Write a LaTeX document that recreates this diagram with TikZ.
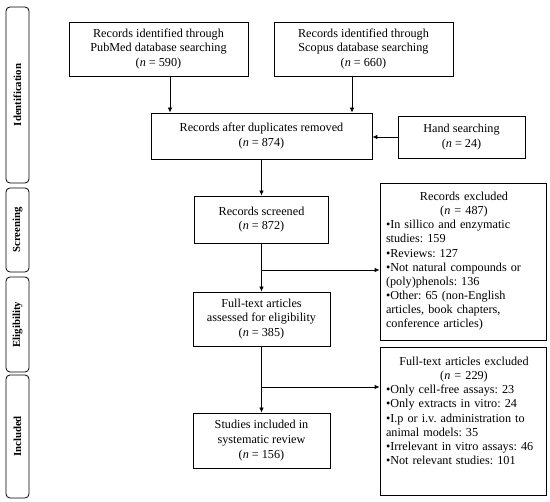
\documentclass[tikz,border=0pt]{standalone}
\usepackage{fontspec}
\setmainfont{Liberation Serif}
\usetikzlibrary{arrows.meta}
\newcommand{\ctrline}[1]{\hspace*{\fill}#1\hspace*{\fill}\mbox{}}
\begin{document}
\frenchspacing
\begin{tikzpicture}[x=1pt,y=-1pt,
  every node/.style={font=\fontsize{12.2}{14.8}\selectfont},
  box/.style={draw,line width=0.8pt,rectangle,inner sep=0pt,align=center},
  sidebox/.style={draw,line width=0.8pt,rectangle,rounded corners=4pt,inner sep=0pt,minimum width=23pt},
  sidetext/.style={rotate=90,font=\fontsize{10.8}{12}\selectfont\bfseries},
  exctext/.style={inner sep=0pt,text width=156pt,align=left,anchor=north,font=\fontsize{12.2}{14.1}\selectfont},
  arr/.style={line width=0.8pt,-{Latex[length=5pt,width=4.5pt]}},
  ln/.style={line width=0.8pt}]
\useasboundingbox (0,0) rectangle (550,502);
% side labels
\node[sidebox,minimum height=176pt] (sident) at (17.5,95) {};
\node[sidetext] (tident) at (sident.center) {Identification};
\node[sidebox,minimum height=84pt] (sscreen) at (17.5,230) {};
\node[sidetext] (tscreen) at (sscreen.center) {Screening};
\node[sidebox,minimum height=95pt] (selig) at (17.5,324.5) {};
\node[sidetext] (telig) at (selig.center) {Eligibility};
\node[sidebox,minimum height=123pt] (sincl) at (17.5,436.5) {};
\node[sidetext] (tincl) at (sincl.center) {Included};
% main boxes
\node[box,minimum width=179pt,minimum height=54pt] (pubmed) at (158.5,49)
  {Records identified through\\PubMed database searching\\(\textit{n} = 590)};
\node[box,minimum width=179pt,minimum height=54pt] (scopus) at (363.5,49)
  {Records identified through\\Scopus database searching\\(\textit{n} = 660)};
\node[box,minimum width=221pt,minimum height=46pt] (dupes) at (261.5,136)
  {Records after duplicates removed\\(\textit{n} = 874)};
\node[box,minimum width=127pt,minimum height=42pt] (hand) at (461.5,137)
  {Hand searching\\(\textit{n} = 24)};
\node[box,minimum width=134pt,minimum height=47pt] (screened) at (261.5,219.5)
  {Records screened\\(\textit{n} = 872)};
\node[box,minimum width=137pt,minimum height=54pt] (fulltext) at (261.5,319)
  {Full-text articles\\assessed for eligibility\\(\textit{n} = 385)};
\node[box,minimum width=137pt,minimum height=55pt] (included) at (261.5,440.5)
  {Studies included in\\systematic review\\(\textit{n} = 156)};
% exclusion boxes
\node[box,minimum width=166pt,minimum height=157pt] (excl1) at (463,261.5) {};
\node[exctext] (excl1t) at (464,192)
  {\ctrline{Records excluded}\\
   \ctrline{(\textit{n} = 487)}\\
   •In sillico and enzymatic\\
   studies: 159\\
   •Reviews: 127\\
   •Not natural compounds or\\
   (poly)phenols: 136\\
   •Other: 65 (non-English\\
   articles, book chapters,\\
   conference articles)};
\node[box,minimum width=166pt,minimum height=148pt] (excl2) at (463,421) {};
\node[exctext] (excl2t) at (464,357)
  {\ctrline{Full-text articles excluded}\\
   \ctrline{(\textit{n} = 229)}\\
   •Only cell-free assays: 23\\
   •Only extracts in vitro: 24\\
   •I.p or i.v. administration to\\
   animal models: 35\\
   •Irrelevant in vitro assays: 46\\
   •Not relevant studies: 101};
% connectors
\draw[arr] ([xshift=11.5pt]pubmed.south) -- ([xshift=11.5pt]pubmed.south |- dupes.north);
\draw[arr] ([xshift=-11.5pt]scopus.south) -- ([xshift=-11.5pt]scopus.south |- dupes.north);
\draw[arr] (hand.west) -- (hand.west -| dupes.east);
\draw[arr] (dupes.south) -- (screened.north);
\draw[arr] (screened.south) -- (fulltext.north);
\draw[arr] (fulltext.south) -- (included.north);
\coordinate (b1) at (261.5,270);
\coordinate (b2) at (261.5,387);
\draw[arr] (b1) -- (b1 -| excl1.west);
\draw[arr] (b2) -- (b2 -| excl2.west);
\end{tikzpicture}
\end{document}
